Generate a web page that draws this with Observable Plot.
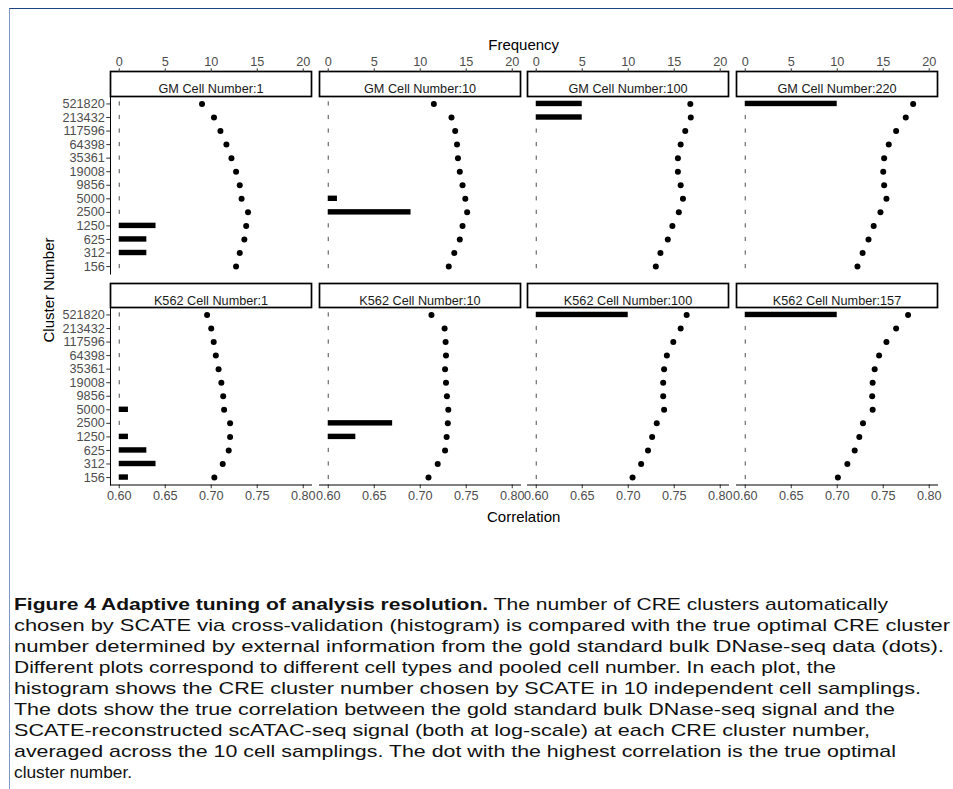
<!DOCTYPE html>
<html><head><meta charset="utf-8">
<script src="https://cdn.jsdelivr.net/npm/d3@7"></script>
<script src="https://cdn.jsdelivr.net/npm/@observablehq/plot@0.6"></script>
<style>
body{margin:0;background:#fff;}
#page{position:relative;width:953px;height:789px;overflow:hidden;font-family:"Liberation Sans",Arial,Helvetica,sans-serif;background:#fff;}
#border{position:absolute;left:9px;top:8px;right:0;bottom:-2px;border-top:1px solid #1f4580;border-left:1px solid #7f98c2;}
.panel{position:absolute;}
.title{position:absolute;font-size:15px;color:#000;white-space:nowrap;}
#caption{position:absolute;left:14px;top:594px;font-family:"Liberation Sans Narrow","Liberation Sans",Arial,sans-serif;font-size:17px;color:#111;line-height:21px;}
#caption div{white-space:nowrap;transform-origin:0 50%;}
</style></head><body><div id="page"><div id="border"></div></div>
<script>
const clusters = ["521820","213432","117596","64398","35361","19008","9856","5000","2500","1250","625","312","156"];
const panelTitles = ["GM Cell Number:1","GM Cell Number:10","GM Cell Number:100","GM Cell Number:220",
                     "K562 Cell Number:1","K562 Cell Number:10","K562 Cell Number:100","K562 Cell Number:157"];
const corrTicks = [0.60,0.65,0.70,0.75,0.80];

const corrGM1   = [0.690,0.703,0.710,0.7165,0.722,0.727,0.731,0.733,0.740,0.738,0.736,0.731,0.727];
const freqGM1   = [0,0,0,0,0,0,0,0,0,4,3,3,0];
const corrGM10  = [0.7148,0.734,0.738,0.740,0.741,0.743,0.746,0.749,0.751,0.746,0.743,0.737,0.731];
const freqGM10  = [0,0,0,0,0,0,0,1,9,0,0,0,0];
const corrGM100 = [0.7675,0.768,0.762,0.757,0.754,0.754,0.757,0.7595,0.755,0.748,0.743,0.735,0.730];
const freqGM100 = [5,5,0,0,0,0,0,0,0,0,0,0,0];
const corrGM220 = [0.7825,0.7745,0.764,0.756,0.751,0.750,0.751,0.7535,0.747,0.7396,0.734,0.7276,0.722];
const freqGM220 = [10,0,0,0,0,0,0,0,0,0,0,0,0];
const corrK1    = [0.6955,0.700,0.7027,0.705,0.708,0.711,0.713,0.714,0.7205,0.7205,0.719,0.7125,0.7034];
const freqK1    = [0,0,0,0,0,0,0,1,0,1,3,4,1];
const corrK10   = [0.7122,0.7265,0.7276,0.728,0.727,0.728,0.729,0.7305,0.730,0.7287,0.727,0.719,0.709];
const freqK10   = [0,0,0,0,0,0,0,0,7,3,0,0,0];
const corrK100  = [0.7635,0.757,0.749,0.742,0.739,0.738,0.738,0.739,0.731,0.726,0.7215,0.714,0.7047];
const freqK100  = [10,0,0,0,0,0,0,0,0,0,0,0,0];
const corrK157  = [0.777,0.764,0.7535,0.7455,0.7407,0.7385,0.738,0.7385,0.728,0.724,0.719,0.711,0.7007];
const freqK157  = [10,0,0,0,0,0,0,0,0,0,0,0,0];

const corrs = [corrGM1,corrGM10,corrGM100,corrGM220,corrK1,corrK10,corrK100,corrK157];
const freqs = [freqGM1,freqGM10,freqGM100,freqGM220,freqK1,freqK10,freqK100,freqK157];

const captionLines = [
  ["Figure 4 Adaptive tuning of analysis resolution.", " The number of CRE clusters automatically"],
  ["", "chosen by SCATE via cross-validation (histogram) is compared with the true optimal CRE cluster"],
  ["", "number determined by external information from the gold standard bulk DNase-seq data (dots)."],
  ["", "Different plots correspond to different cell types and pooled cell number. In each plot, the"],
  ["", "histogram shows the CRE cluster number chosen by SCATE in 10 independent cell samplings."],
  ["", "The dots show the true correlation between the gold standard bulk DNase-seq signal and the"],
  ["", "SCATE-reconstructed scATAC-seq signal (both at log-scale) at each CRE cluster number,"],
  ["", "averaged across the 10 cell samplings. The dot with the highest correlation is the true optimal"],
  ["", "cluster number."]
];
const captionEnds = [888,950,944,836,921,895,870,896,132];

const page = document.getElementById("page");
const font = "Liberation Sans, Arial, Helvetica, sans-serif";
const colLeft0 = 110, colStep = 208.7, panelW = 201;
const rows = [
  {svgTop: 40, stripTop: 71, panelTop: 96, panelBottom: 273.5},
  {svgTop: 275, stripTop: 283, panelTop: 307, panelBottom: 484.5}
];
const xDomain = [0.5905, 0.809];

for (let p = 0; p < 8; p++) {
  const r = Math.floor(p / 4), c = p % 4;
  const g = rows[r];
  const L = colLeft0 + c * colStep;
  const mL = c === 0 ? 90 : 6, mR = 18;
  const mT = g.stripTop - g.svgTop;
  const strip = g.panelTop - g.stripTop;
  const mB = r === 0 ? 8 : 26;
  const height = g.panelBottom + mB - g.svgTop;
  const width = mL + panelW + mR;
  const data = clusters.map((k, i) => ({cluster: k, corr: corrs[p][i], freq: freqs[p][i]}));
  const nonzero = data.filter(d => d.freq > 0);
  const zero = data.filter(d => d.freq === 0);
  const marks = [
    Plot.frame({insetBottom: g.panelBottom - g.panelTop, stroke: "#000", strokeWidth: 1.7}),
    Plot.text([panelTitles[p]], {text: d => d, frameAnchor: "top", dy: strip / 2, fontSize: 12.7, fill: "#1a1a1a"}),
    Plot.barX(nonzero, {x1: 0.6, x2: d => 0.6 + d.freq / 100, y: "cluster", fill: "#000"}),
    Plot.tickX(zero, {x: 0.6, y: "cluster", stroke: "#000", strokeWidth: 0.7, insetTop: 0.6, insetBottom: 0.6}),
    Plot.dot(data, {x: "corr", y: "cluster", r: 3, fill: "#000", stroke: null})
  ];
  if (r === 0) {
    marks.push(Plot.axisX({anchor: "top", ticks: corrTicks, tickFormat: d => String(Math.round((d - 0.6) * 100)),
      tickSize: 3.7, tickPadding: 2, fontSize: 12.7, label: null, stroke: "#333", fill: "#4d4d4d"}));
  } else {
    marks.push(Plot.axisX({anchor: "bottom", ticks: corrTicks, tickFormat: d3.format(".2f"),
      tickSize: 3.7, tickPadding: 2, fontSize: 12.7, label: null, stroke: "#333", fill: "#4d4d4d"}));
    marks.push(Plot.frame({anchor: "bottom", stroke: "#000", strokeWidth: 1}));
  }
  if (c === 0) {
    marks.push(Plot.axisY({anchor: "left", tickSize: 3.7, tickPadding: 2, fontSize: 12.7, label: null, stroke: "#333", fill: "#4d4d4d"}));
    marks.push(Plot.frame({anchor: "left", insetTop: strip, stroke: "#000", strokeWidth: 1}));
  }
  const chart = Plot.plot({
    width, height,
    marginLeft: mL, marginRight: mR, marginTop: mT, marginBottom: mB,
    style: {fontFamily: font, background: "transparent", overflow: "visible", color: "#4d4d4d"},
    x: {domain: xDomain, axis: null},
    y: {type: "band", domain: clusters, paddingInner: 0.6, paddingOuter: 0.35, align: 0.5, round: false, insetTop: strip, axis: null},
    marks
  });
  chart.classList.add("panel");
  chart.style.left = (L - mL) + "px";
  chart.style.top = g.svgTop + "px";
  page.appendChild(chart);
}

function addTitle(text, x, y, rotate) {
  const d = document.createElement("div");
  d.className = "title";
  d.textContent = text;
  d.style.left = x + "px";
  d.style.top = y + "px";
  d.style.transform = "translate(-50%,-50%)" + (rotate ? " rotate(-90deg)" : "");
  page.appendChild(d);
}
addTitle("Frequency", 523.7, 43.5, false);
addTitle("Correlation", 523.7, 516, false);
addTitle("Cluster Number", 48, 290, true);

const cap = document.createElement("div");
cap.id = "caption";
page.appendChild(cap);
const lineEls = captionLines.map(([b, t]) => {
  const d = document.createElement("div");
  if (b) { const s = document.createElement("b"); s.textContent = b; d.appendChild(s); }
  d.appendChild(document.createTextNode(t));
  const w = document.createElement("span");
  w.style.display = "inline-block";
  w.appendChild(d);
  const row = document.createElement("div");
  row.appendChild(w);
  cap.appendChild(row);
  return w;
});
lineEls.forEach((w, i) => {
  const target = captionEnds[i] - 14;
  const actual = w.getBoundingClientRect().width;
  if (actual > 0) { w.style.transformOrigin = "0 50%"; w.style.transform = `scaleX(${target / actual})`; }
});
</script></body></html>
